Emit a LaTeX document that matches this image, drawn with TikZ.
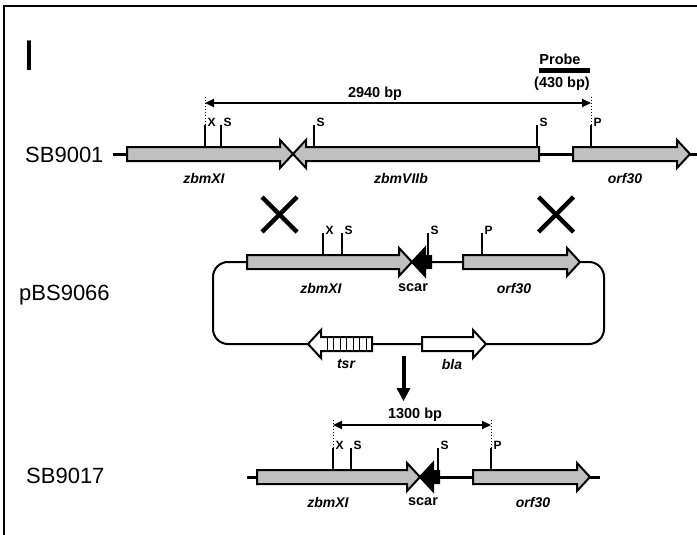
\documentclass[tikz,border=0pt]{standalone}
\usepackage{fontspec}
\setmainfont{Liberation Sans}
\usetikzlibrary{arrows.meta}
\definecolor{genegray}{RGB}{192,192,192}
\tikzset{
 gene/.style={draw=black, line width=2pt, line join=miter},
 backbone/.style={line width=3pt},
 plasmid/.style={line width=2pt, rounded corners=15pt},
 site/.style={line width=2pt},
 sitelab/.style={font=\fontsize{12}{13}\selectfont\bfseries, inner sep=0pt, anchor=west},
 genelab/.style={font=\fontsize{14}{16}\selectfont\bfseries\itshape, inner sep=0pt},
 scarlab/.style={font=\fontsize{14.5}{16}\selectfont\bfseries, inner sep=0pt},
 bplab/.style={font=\fontsize{14.5}{16}\selectfont\bfseries, inner sep=0pt},
 strain/.style={font=\fontsize{22}{24}\selectfont, inner sep=0pt, anchor=west},
 dim/.style={line width=2pt, {Triangle[length=9pt,width=8pt]}-{Triangle[length=9pt,width=8pt]}},
 guide/.style={line width=1pt, dotted},
 cross/.style={line width=4.5pt},
 stripe/.style={line width=1pt},
}
% right-pointing gene: x0, tip, y, fill
\newcommand{\rgene}[4]{\filldraw[gene,fill=#4] (#1,#3-7) -- (#2-13,#3-7) -- (#2-13,#3-14) -- (#2,#3) -- (#2-13,#3+14) -- (#2-13,#3+7) -- (#1,#3+7) -- cycle;}
% left-pointing gene: tip, x1, y, fill
\newcommand{\lgene}[4]{\filldraw[gene,fill=#4] (#1,#3) -- (#1+13,#3-14) -- (#1+13,#3-7) -- (#2,#3-7) -- (#2,#3+7) -- (#1+13,#3+7) -- (#1+13,#3+14) -- cycle;}
% scar: tip, y
\newcommand{\scarmark}[2]{\filldraw[gene,fill=black] (#1,#2) -- (#1+13,#2-14) -- (#1+13,#2-6) -- (#1+19,#2-6) -- (#1+19,#2+6) -- (#1+13,#2+6) -- (#1+13,#2+14) -- cycle;}
% restriction site: name, x, ybottom, ytop, label
\newcommand{\rsite}[5]{\draw[site] (#2,#3) -- (#2,#4); \node[sitelab] (#1) at (#2+2.5,#4-3) {#5};}

\begin{document}
\begin{tikzpicture}[x=1pt,y=-1pt]
\useasboundingbox (0,0) rectangle (697,535);
% frame
\draw[line width=2pt] (4,536) -- (4,6) -- (698,6);
\node[font=\fontsize{43}{43}\selectfont, inner sep=0pt] (panel) at (29,56) {I};

% ---------------- SB9001 ----------------
\node[strain] (sb9001) at (25,155) {SB9001};
\draw[backbone] (113,154) -- (698,154);
\rgene{127}{293}{154}{genegray}
\lgene{293}{539}{154}{genegray}
\rgene{573}{690}{154}{genegray}
\rsite{a1}{205}{147}{125}{X}
\rsite{a2}{221}{147}{125}{S}
\rsite{a3}{314}{147}{125}{S}
\rsite{a4}{537}{147}{125}{S}
\rsite{a5}{591}{147}{125}{P}
\coordinate (d1l) at (205,103);
\coordinate (d1r) at (591,103);
\draw[guide] (205,97) -- (205,125);
\draw[guide] (591,97) -- (591,125);
\draw[dim] (d1l) -- (d1r);
\node[bplab] (bp2940) at (375,94) {2940 bp};
\node[bplab] (probe) at (560,59) {Probe};
\draw[line width=5pt] (539,70.5) -- (590,70.5);
\node[bplab] (probebp) at (562,84) {(430 bp)};
\node[genelab] (g1) at (204,178) {zbmXI};
\node[genelab] (g2) at (401,178) {zbmVIIb};
\node[genelab] (g3) at (625,178) {orf30};

% crosses
\draw[cross] (262,197) -- (297,232);
\draw[cross] (262,232) -- (297,197);
\draw[cross] (538.5,197) -- (573.5,232);
\draw[cross] (538.5,232) -- (573.5,197);

% ---------------- pBS9066 ----------------
\node[strain] (pbs) at (19,295) {pBS9066};
\draw[plasmid] (213,262) rectangle (604,344);
\rgene{247}{412}{262}{genegray}
\scarmark{412}{262}
\rgene{463}{580}{262}{genegray}
\rsite{b1}{323}{255}{233}{X}
\rsite{b2}{342}{255}{233}{S}
\rsite{b3}{428}{255}{233}{S}
\rsite{b4}{482}{255}{233}{P}
\lgene{308}{372}{344}{white}
\foreach \i in {1,...,7} \draw[stripe] ({320.5+6.5*\i},337) -- ({320.5+6.5*\i},351);
\rgene{422}{486}{344}{white}
\node[genelab] (h1) at (321,288) {zbmXI};
\node[scarlab] (h2) at (413,288) {scar};
\node[genelab] (h3) at (514,288) {orf30};
\node[genelab] (h4) at (346,364) {tsr};
\node[genelab] (h5) at (452,364) {bla};

% down arrow
\draw[line width=4pt] (403.5,356) -- (403.5,389);
\fill (396.5,388) -- (410.5,388) -- (403.5,401) -- cycle;

% ---------------- SB9017 ----------------
\node[strain] (sb9017) at (26,476) {SB9017};
\draw[backbone] (247,477) -- (600,477);
\rgene{257}{420}{477}{genegray}
\scarmark{420}{477}
\rgene{473}{590}{477}{genegray}
\rsite{c1}{333}{470}{448}{X}
\rsite{c2}{351}{470}{448}{S}
\rsite{c3}{438}{470}{448}{S}
\rsite{c4}{491}{470}{448}{P}
\coordinate (d2l) at (333,425);
\coordinate (d2r) at (491,425);
\draw[guide] (333,420) -- (333,448);
\draw[guide] (491,420) -- (491,448);
\draw[dim] (d2l) -- (d2r);
\node[bplab] (bp1300) at (415,415) {1300 bp};
\node[genelab] (k1) at (328,502) {zbmXI};
\node[scarlab] (k2) at (423,502) {scar};
\node[genelab] (k3) at (533,502) {orf30};
\end{tikzpicture}
\end{document}
